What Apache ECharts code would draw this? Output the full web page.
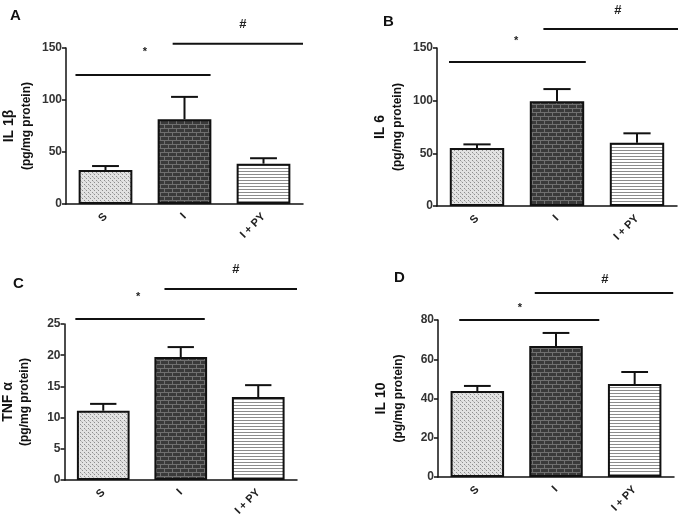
<!DOCTYPE html>
<html><head><meta charset="utf-8">
<script src="https://cdn.jsdelivr.net/npm/echarts@6/dist/echarts.min.js"></script>
<style>html,body{margin:0;padding:0;background:#fff}#c{width:685px;height:522px}</style>
</head><body><div id="c"></div>
<script>
const categories = ['S', 'I', 'I + PY'];
// means and upper SEM for each panel
const meanA = [32.7, 81.5, 38.8];  const errA = [3.8, 21.5, 5.2];
const meanB = [55, 99.5, 60];      const errB = [3.5, 11.5, 9];
const meanC = [11.1, 19.7, 13.3];  const errC = [1.1, 1.6, 1.9];
const meanD = [43.8, 66.8, 47.4];  const errD = [2.6, 6.6, 6.1];
const yMax = [150, 150, 25, 80];
const yStep = [50, 50, 5, 20];
const yNames = ['IL 1β', 'IL 6', 'TNF α', 'IL 10'];
const letters = ['A', 'B', 'C', 'D'];
// significance bars: [x0, x1, y] in category units / data units
const starLine = [[-0.38, 1.33, 124], [-0.35, 1.36, 136.7], [-0.36, 1.31, 25.8], [-0.23, 1.55, 80]];
const hashLine = [[0.85, 2.5, 154], [0.83, 2.6, 168], [0.79, 2.5, 30.6], [0.73, 2.49, 93.8]];
const starPos = [[0.5, 146], [0.49, 156.6], [0.45, 29.3], [0.54, 86.1]];
const hashPos = [[1.74, 173], [1.76, 186], [1.71, 33.7], [1.62, 100.9]];

function pat(w, h, draw) {
  const c = document.createElement('canvas'); c.width = w; c.height = h;
  const g = c.getContext('2d'); draw(g); return { image: c, repeat: 'repeat' };
}
const patS = pat(4, 4, g => { g.fillStyle = '#e2e2e2'; g.fillRect(0,0,4,4); g.fillStyle = '#8e8e8e'; g.fillRect(0,0,1,1); g.fillRect(2,2,1,1); g.fillStyle = '#bdbdbd'; g.fillRect(1,1,1,1); });
const patI = pat(8, 8, g => { g.fillStyle = '#3a3a3a'; g.fillRect(0,0,8,8); g.fillStyle = '#707070'; g.fillRect(0,0,8,1); g.fillRect(0,4,8,1); g.fillRect(0,0,1,4); g.fillRect(4,4,1,4); });
const patP = pat(4, 3, g => { g.fillStyle = '#ffffff'; g.fillRect(0,0,4,3); g.fillStyle = '#8c8c8c'; g.fillRect(0,0,4,1); });
const pats = [patS, patI, patP];

const grids = [
  { left: 66, top: 48, width: 237, height: 156 },
  { left: 437, top: 48, width: 240, height: 158 },
  { left: 62, top: 324, width: 235, height: 156 },
  { left: 438, top: 320, width: 236, height: 157 }
];
const means = [meanA, meanB, meanC, meanD];
const errs = [errA, errB, errC, errD];
const FONT = 'Liberation Sans, Arial, sans-serif';

const option = { animation: false, backgroundColor: '#fff', grid: grids, xAxis: [], yAxis: [], series: [], title: [] };
const lt = [[5, 3], [378, 9], [8, 271], [389, 265]];
for (let p = 0; p < 4; p++) {
  option.title.push({ text: letters[p], left: lt[p][0], top: lt[p][1], textStyle: { fontFamily: FONT, fontSize: 15, fontWeight: 'bold', color: '#111' } });
  option.xAxis.push({
    type: 'category', gridIndex: p, data: categories,
    axisLine: { onZero: false, lineStyle: { color: '#111', width: 1.5 } },
    axisTick: { alignWithLabel: true, length: 4, lineStyle: { color: '#111', width: 1.5 } },
    axisLabel: { rotate: 45, fontFamily: FONT, fontSize: 11, fontWeight: 'bold', color: '#222', margin: 11 }
  });
  option.yAxis.push({
    type: 'value', gridIndex: p, min: 0, max: yMax[p], interval: yStep[p],
    splitLine: { show: false },
    axisLine: { show: true, onZero: false, lineStyle: { color: '#111', width: 1.5 } },
    axisTick: { show: true, length: 4, lineStyle: { color: '#111', width: 1.5 } },
    axisLabel: { fontFamily: FONT, fontSize: 12, fontWeight: 'bold', color: '#333', margin: 4 },
    name: '{a|' + yNames[p] + '}\n{b|(pg/mg protein)}',
    nameLocation: 'middle', nameRotate: 90, nameGap: 31,
    nameTextStyle: { align: 'center', rich: {
      a: { fontFamily: FONT, fontSize: 14, fontWeight: 'bold', color: '#111', lineHeight: 17 },
      b: { fontFamily: FONT, fontSize: 12, fontWeight: 'bold', color: '#111', lineHeight: 17 } } }
  });
}
for (let p = 0; p < 4; p++) {
  option.xAxis.push({ type: 'value', gridIndex: p, min: -0.5, max: 2.5, show: false });
}
for (let p = 0; p < 4; p++) {
  option.series.push({
    type: 'bar', xAxisIndex: p, yAxisIndex: p, barCategoryGap: '32%',
    data: means[p].map((v, i) => ({ value: v, itemStyle: { color: pats[i], borderColor: '#111', borderWidth: 2 } }))
  });
  option.series.push({
    type: 'custom', xAxisIndex: p, yAxisIndex: p, z: 1,
    data: means[p].map((v, i) => [i, v, errs[p][i]]),
    renderItem: (params, api) => {
      const b = api.coord([api.value(0), api.value(1)]);
      const t = api.coord([api.value(0), api.value(1) + api.value(2)]);
      const hw = api.size([1, 0])[0] * 0.17;
      const st = { stroke: '#111', lineWidth: 2 };
      return { type: 'group', children: [
        { type: 'line', shape: { x1: b[0], y1: b[1], x2: t[0], y2: t[1] }, style: st },
        { type: 'line', shape: { x1: t[0] - hw, y1: t[1], x2: t[0] + hw, y2: t[1] }, style: st }
      ] };
    }
  });
  [starLine[p], hashLine[p]].forEach(l => {
    option.series.push({
      type: 'line', xAxisIndex: 4 + p, yAxisIndex: p, clip: false, symbol: 'none',
      lineStyle: { color: '#111', width: 2 },
      data: [[l[0], l[2]], [l[1], l[2]]]
    });
  });
  option.series.push({
    type: 'custom', xAxisIndex: 4 + p, yAxisIndex: p, clip: false,
    data: [[starPos[p][0], starPos[p][1], 0], [hashPos[p][0], hashPos[p][1], 1]],
    renderItem: (params, api) => {
      const c = api.coord([api.value(0), api.value(1)]);
      const isHash = api.value(2) === 1;
      return { type: 'text', x: c[0], y: c[1], style: {
        text: isHash ? '#' : '*', textAlign: 'center', textVerticalAlign: 'middle',
        font: 'bold ' + (isHash ? 13 : 11) + 'px ' + FONT, fill: '#222' } };
    }
  });
}
const chart = echarts.init(document.getElementById('c'));
chart.setOption(option);
</script></body></html>
